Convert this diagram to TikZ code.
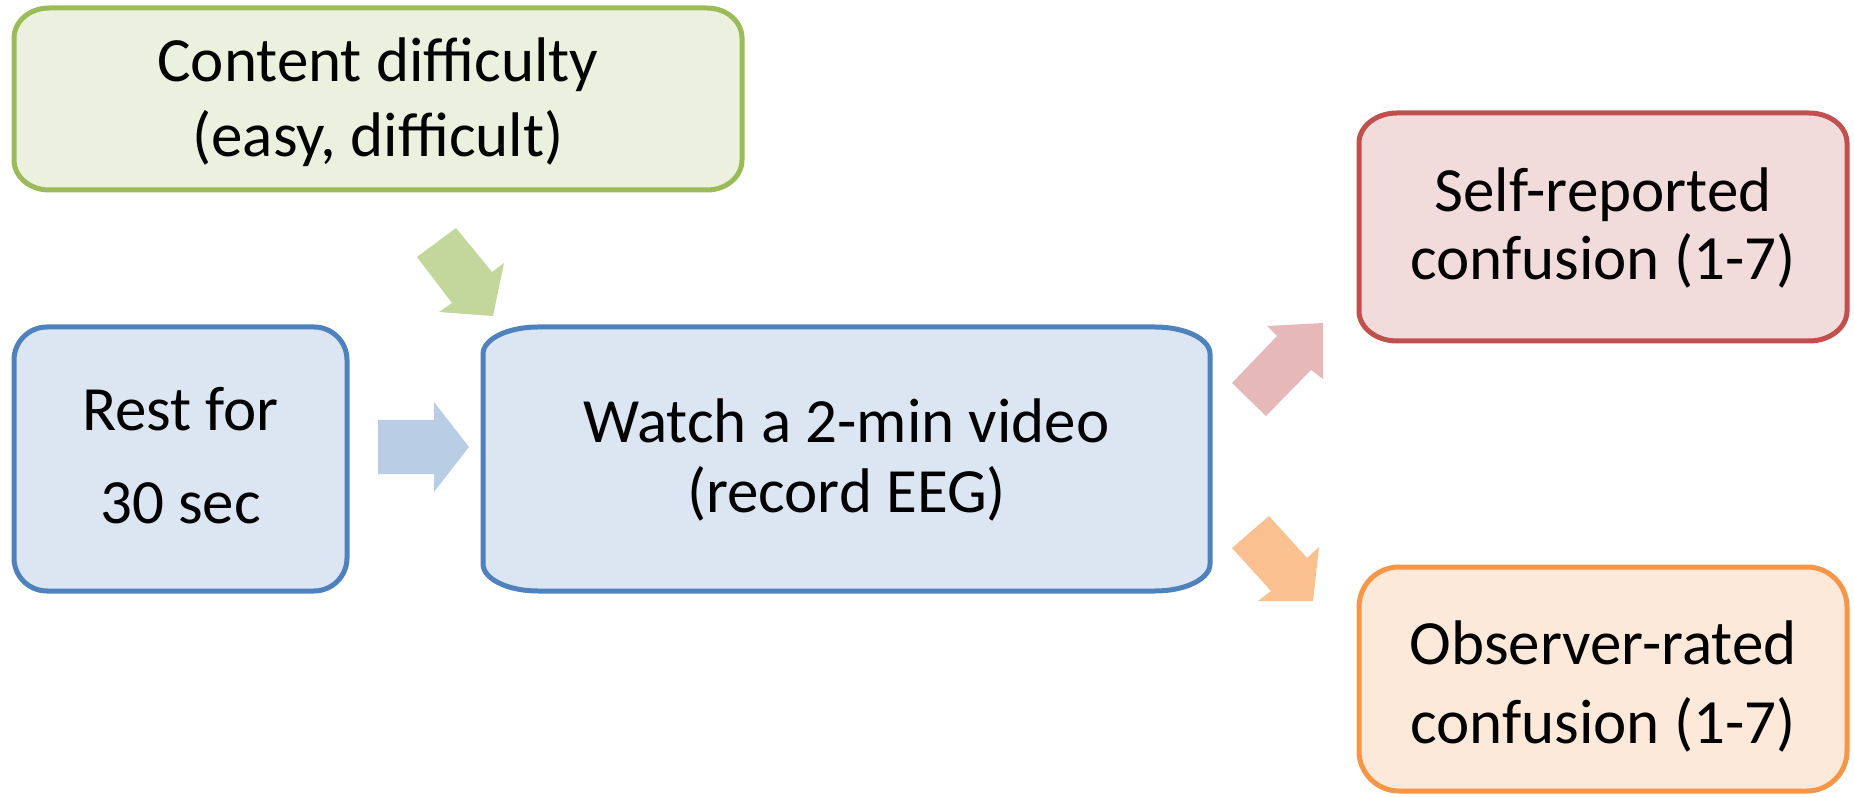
\documentclass[tikz,border=0pt]{standalone}
\usepackage{fontspec}
\setmainfont{Carlito}
\usetikzlibrary{backgrounds}
\definecolor{grnLine}{HTML}{9BBB59}
\definecolor{grnFill}{HTML}{EBF1DE}
\definecolor{grnArr}{HTML}{C3D69B}
\definecolor{bluLine}{HTML}{4F81BD}
\definecolor{bluFill}{HTML}{DCE6F2}
\definecolor{bluArr}{HTML}{B9CDE5}
\definecolor{redLine}{HTML}{C0504D}
\definecolor{redFill}{HTML}{F2DCDB}
\definecolor{redArr}{HTML}{E6B9B8}
\definecolor{orgLine}{HTML}{F79646}
\definecolor{orgFill}{HTML}{FDE9D9}
\definecolor{orgArr}{HTML}{FAC090}
\newcommand\twolines[3]{\vbox{\baselineskip=#3pt\lineskiplimit=-200pt\halign{\hfil##\hfil\cr#1\cr#2\cr}}}
\newcommand\ebox[4]{%
  \draw[#4] ([xshift=#2pt]#1.north west) -- ([xshift=-#2pt]#1.north east)
    arc[start angle=90,end angle=0,x radius=#2pt,y radius=#3pt]
    -- ([yshift=#3pt]#1.south east)
    arc[start angle=0,end angle=-90,x radius=#2pt,y radius=#3pt]
    -- ([xshift=#2pt]#1.south west)
    arc[start angle=270,end angle=180,x radius=#2pt,y radius=#3pt]
    -- ([yshift=-#3pt]#1.north west)
    arc[start angle=180,end angle=90,x radius=#2pt,y radius=#3pt] -- cycle;}
\tikzset{
  boxnode/.style={rectangle, inner sep=0pt, outer sep=0pt,
    font=\fontsize{63}{75}\selectfont, text depth=10pt},
  outline/.style={line width=5pt},
  blockarrow/.style={draw=none}
}
\begin{document}
\begin{tikzpicture}[x=1pt,y=1pt]
\useasboundingbox (0,0) rectangle (1854,796);
% nodes
\node[boxnode, minimum width=728pt, minimum height=182pt, text height=125pt] (content) at (378,697)
  {\twolines{Content difficulty}{(easy, difficult)}{75}};
\node[boxnode, minimum width=333pt, minimum height=264pt, text height=138pt] (rest) at (180.5,337)
  {\twolines{Rest for}{30 sec}{93}};
\node[boxnode, minimum width=727pt, minimum height=264pt, text height=116pt] (watch) at (846.5,337)
  {\twolines{Watch a 2-min video}{(record EEG)}{70}};
\node[boxnode, minimum width=488pt, minimum height=228pt, text height=116pt] (self) at (1603,569)
  {\twolines{Self-reported}{confusion (1-7)}{68}};
\node[boxnode, minimum width=488pt, minimum height=224pt, text height=138pt] (observer) at (1603,117)
  {\twolines{Observer-rated}{confusion (1-7)}{79}};
\begin{scope}[on background layer]
  \ebox{content}{35}{30}{outline, draw=grnLine, fill=grnFill}
  \ebox{rest}{33}{33}{outline, draw=bluLine, fill=bluFill}
  \ebox{watch}{55}{27}{outline, draw=bluLine, fill=bluFill}
  \ebox{self}{38}{30}{outline, draw=redLine, fill=redFill}
  \ebox{observer}{40}{40}{outline, draw=orgLine, fill=orgFill}
\end{scope}
% block arrows
\fill[blockarrow, grnArr] (417,539) -- (456,568) -- (492,524) -- (504,533) -- (493,480) -- (439,484) -- (452,493) -- cycle;
\fill[blockarrow, bluArr] (378,376) -- (434,376) -- (434,394) -- (469,349) -- (434,304) -- (434,322) -- (378,322) -- cycle;
\fill[blockarrow, redArr] (1232,413) -- (1277,460) -- (1267,470) -- (1323,473) -- (1323,417) -- (1311,426) -- (1266,380) -- cycle;
\fill[blockarrow, orgArr] (1232,248) -- (1269,280) -- (1307,238) -- (1319,249) -- (1313,195) -- (1258,195) -- (1271,205) -- cycle;
\end{tikzpicture}
\end{document}
